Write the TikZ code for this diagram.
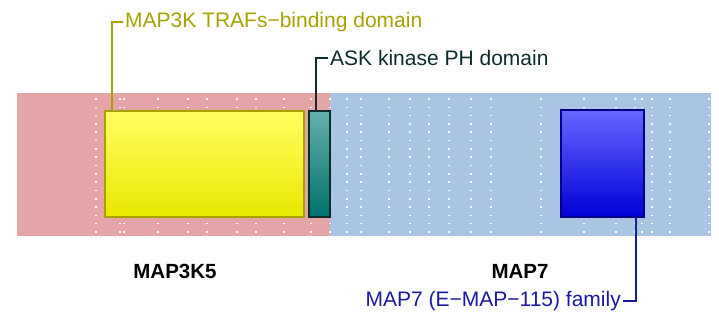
\documentclass[tikz,border=0pt]{standalone}
\usepackage{fontspec}
\setmainfont{Liberation Sans}
\definecolor{pinkband}{HTML}{E5A5A6}
\definecolor{blueband}{HTML}{A9C5E3}
\definecolor{olivec}{HTML}{A6A200}
\definecolor{tealdark}{HTML}{0C2C2C}
\definecolor{navyc}{HTML}{1A1AA0}
\definecolor{yelltop}{HTML}{FFFF62}
\definecolor{yellbot}{HTML}{E8E800}
\definecolor{tealtop}{HTML}{66B0AA}
\definecolor{tealbot}{HTML}{00726C}
\definecolor{bluetop}{HTML}{6666FF}
\definecolor{bluebot}{HTML}{0000D6}
\definecolor{blueedge}{HTML}{00008C}
\tikzset{
  domainbox/.style={rectangle, inner sep=0pt, outer sep=0pt, anchor=north west, line width=1.8pt},
  leader/.style={line width=1.8pt},
  lbl/.style={inner sep=0pt, font=\fontsize{21}{25}\selectfont},
  protlbl/.style={inner sep=0pt, font=\fontsize{20.5}{24}\selectfont\bfseries},
}
\begin{document}
\begin{tikzpicture}[x=1pt,y=-1pt]
\useasboundingbox (0,0) rectangle (719,326);
% bands
\fill[pinkband] (17,93) rectangle (330,236);
\fill[blueband] (330,93) rectangle (711,236);
% dotted grid
\foreach \cx in {96,120,124,158,188,207,237,256,284,311,330,347,361,389,410,429,449,471,491,541,584,616,635,642,652,670,709}{
  \foreach \r in {0,...,16}{
    \fill[white] ({\cx-0.8},{99+\r*8.31-0.8}) rectangle ++(1.6,1.6);
  }
}
% domain boxes
\node[domainbox, draw=olivec, top color=yelltop, bottom color=yellbot, minimum width=199pt, minimum height=106pt] (traf) at (105,111) {};
\node[domainbox, draw=tealdark, top color=tealtop, bottom color=tealbot, minimum width=21pt, minimum height=106pt] (ask) at (309,111) {};
\node[domainbox, draw=blueedge, top color=bluetop, bottom color=bluebot, minimum width=83pt, minimum height=107pt] (map7) at (561,110) {};
% labels
\node[lbl, text=olivec, anchor=west] (trafl) at (125,22) {MAP3K TRAFs−binding domain};
\node[lbl, text=tealdark, anchor=west] (askl) at (330,58) {ASK kinase PH domain};
\node[lbl, text=navyc, anchor=east] (map7l) at (621,301) {MAP7 (E−MAP−115) family};
\node[protlbl] (p1) at (175,271) {MAP3K5};
\node[protlbl] (p2) at (520,271) {MAP7};
% leaders
\draw[leader, olivec] ([xshift=7pt]traf.north west) |- ([xshift=-2pt]trafl.west);
\draw[leader, tealdark] ([xshift=7pt]ask.north west) |- ([xshift=-2pt]askl.west);
\draw[leader, navyc] ([xshift=-8pt]map7.south east) |- ([xshift=2pt]map7l.east);
\end{tikzpicture}
\end{document}
